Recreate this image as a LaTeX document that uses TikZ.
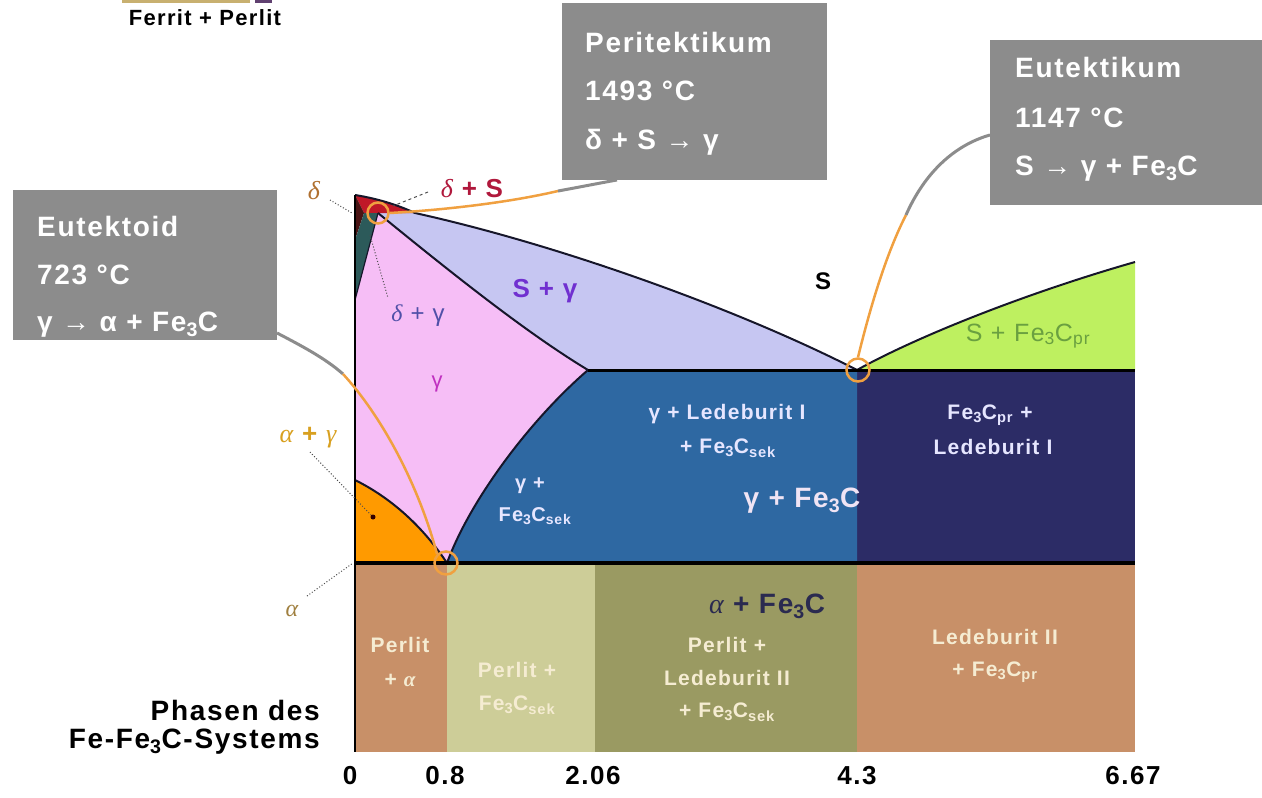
\documentclass[tikz,border=0pt]{standalone}
\usepackage{fontspec}
\setmainfont{Liberation Sans}[LetterSpace=6]
\newfontfamily\gk{Liberation Serif}
\usetikzlibrary{calc}
\definecolor{boxgray}{HTML}{8C8C8C}
\definecolor{ring}{HTML}{F0A040}
\definecolor{lav}{HTML}{C6C6F2}
\definecolor{pinkg}{HTML}{F6BEF6}
\definecolor{orng}{HTML}{FF9A00}
\definecolor{blu}{HTML}{2E68A2}
\definecolor{navy}{HTML}{2C2C66}
\definecolor{lgreen}{HTML}{BEF060}
\definecolor{brwn}{HTML}{C89068}
\definecolor{khaki}{HTML}{CDCD98}
\definecolor{olive}{HTML}{9A9A62}
\definecolor{dred}{HTML}{C01828}
\definecolor{ddark}{HTML}{4A1414}
\definecolor{dteal}{HTML}{2C5A5A}
\definecolor{bline}{HTML}{16162A}
\definecolor{cream}{HTML}{F5ECD2}
\definecolor{wlav}{HTML}{E6E6FF}
\definecolor{crimson}{HTML}{B0183C}
\definecolor{purp}{HTML}{7030D0}
\definecolor{dgam}{HTML}{5050A8}
\definecolor{mag}{HTML}{C030C0}
\definecolor{gold}{HTML}{D8A020}
\definecolor{agold}{HTML}{A08040}
\definecolor{dbrown}{HTML}{B07030}
\definecolor{dnavy}{HTML}{2A2A50}
\definecolor{lgtxt}{HTML}{6AA040}
\definecolor{gtxt}{HTML}{F0E4F4}
\definecolor{striptan}{HTML}{C8B070}
\definecolor{strippur}{HTML}{604070}
\tikzset{
  calloutbox/.style={fill=boxgray, draw=none, inner sep=0, anchor=north west},
  ctext/.style={font=\fontsize{28}{30}\selectfont\bfseries, text=white, anchor=base west, inner sep=0},
  lbl/.style={font=\fontsize{21}{24}\selectfont\bfseries, inner sep=0},
  bline/.style={draw=bline, line width=2},
  thick line/.style={draw=black, line width=3.5},
  ringc/.style={circle, draw=ring, line width=2.5, minimum size=21, inner sep=0},
  orline/.style={draw=ring, line width=2.5},
  grline/.style={draw=boxgray, line width=3},
  leader/.style={draw=black!70, line width=1, dotted},
  axnum/.style={font=\fontsize{26}{28}\selectfont\bfseries, inner sep=0}
}
\begin{document}
\begin{tikzpicture}[x=1pt,y=-1pt]
\useasboundingbox (0,0) rectangle (1262,798);
% key points
\coordinate (A) at (355,195);
\coordinate (H) at (364,213);
\coordinate (J) at (378,213);
\coordinate (B) at (415,213);
\coordinate (N) at (355,240);
\coordinate (G) at (355,300);
\coordinate (E) at (588,370);
\coordinate (C) at (857,370);
\coordinate (R) at (1135,370);
\coordinate (D) at (1135,262);
\coordinate (P) at (355,480);
\coordinate (S) at (447,563);
\coordinate (Q) at (355,563);
\coordinate (K) at (1135,563);
\coordinate (C2) at (857,563);
% top-left cut-off legend
\fill[striptan] (122,0) rectangle (250,2.5);
\fill[strippur] (255,0) rectangle (272,2.5);
\node[font=\fontsize{22}{24}\selectfont\bfseries, inner sep=0] (fp) at (205,18) {Ferrit + Perlit};
% bottom regions
\fill[brwn] (355,563) rectangle (447,752);
\fill[khaki] (447,563) rectangle (595,752);
\fill[olive] (595,563) rectangle (857,752);
\fill[brwn] (857,563) rectangle (1135,752);
% upper regions
\fill[navy] (C) rectangle (K);
\fill[lgreen] (C) .. controls (920,335) and (1030,292) .. (D) -- (R) -- cycle;
\fill[blu] (E) -- (C) -- (C2) -- (S) .. controls (470,500) and (530,420) .. (E) -- cycle;
\fill[lav] (J) -- (B) .. controls (560,245) and (740,310) .. (C) -- (E) .. controls (530,335) and (460,280) .. (J) -- cycle;
\fill[pinkg] (J) .. controls (460,280) and (530,335) .. (E) .. controls (530,420) and (470,500) .. (S) .. controls (425,530) and (395,500) .. (P) -- (G) -- cycle;
\fill[orng] (P) .. controls (395,500) and (425,530) .. (S) -- (Q) -- cycle;
\fill[dred] (A) .. controls (380,199) and (400,206) .. (B) -- (H) -- cycle;
\fill[ddark] (A) -- (H) -- (N) -- cycle;
\fill[dteal] (H) -- (J) -- (G) -- (N) -- cycle;
% boundary lines
\draw[bline] (A) .. controls (380,199) and (400,206) .. (B) .. controls (560,245) and (740,310) .. (C);
\draw[bline] (J) .. controls (460,280) and (530,335) .. (E);
\draw[bline] (E) .. controls (530,420) and (470,500) .. (S);
\draw[bline] (P) .. controls (395,500) and (425,530) .. (S);
\draw[bline, line width=1.2] (J) -- (G);
\draw[bline] (C) .. controls (920,335) and (1030,292) .. (D);
\draw[thick line, line width=3] (E) -- (R);
\draw[thick line] (Q) -- (K);
\draw[draw=black, line width=2.5] (A) -- (355,752);
\fill[black!80!red] (373,517) circle (2.5);
% leaders
\draw[leader] (330,200) -- (352,213);
\draw[leader, dashed] (428,192) -- (393,206);
\draw[leader] (370,235) -- (388,298);
\draw[leader] (310,452) -- (371,515);
\draw[leader] (307,596) -- (353,563);
% callout boxes
\node[calloutbox, minimum width=265, minimum height=177] (bp) at (562,3) {};
\node[calloutbox, minimum width=272, minimum height=165] (bq) at (990,40) {};
\node[calloutbox, minimum width=264, minimum height=150] (bz) at (13,190) {};
\node[ctext] (p1) at (585,52) {Peritektikum};
\node[ctext] (p2) at (585,100) {1493 °C};
\node[ctext] (p3) at (585,149) {δ + S → γ};
\node[ctext] (q1) at (1015,77) {Eutektikum};
\node[ctext] (q2) at (1015,127) {1147 °C};
\node[ctext] (q3) at (1015,175) {S → γ + Fe\textsubscript{3}C};
\node[ctext] (z1) at (37,236) {Eutektoid};
\node[ctext] (z2) at (37,284) {723 °C};
\node[ctext] (z3) at (37,331) {γ → α + Fe\textsubscript{3}C};
% rings
\node[ringc] (r1) at (J) {};
\node[ringc, minimum size=23] (r2) at (858,370) {};
\node[ringc, minimum size=23] (r3) at (446,563) {};
% connectors
\coordinate (m1) at (558,191);
\coordinate (pe) at (617,180);
\draw[orline] (r1.east) .. controls (460,209) and (520,200) .. (m1);
\draw[grline] (m1) .. controls (580,187) and (600,183) .. (pe);
\coordinate (m2) at (906,215);
\coordinate (qe) at (990,135);
\draw[orline] (r2.north) .. controls (872,300) and (888,250) .. (m2);
\draw[grline] (m2) .. controls (925,172) and (955,145) .. (qe);
\coordinate (m3) at (343,374);
\coordinate (ze) at (277,333);
\draw[grline] (ze) .. controls (300,345) and (325,358) .. (m3);
\draw[orline] (m3) .. controls (385,420) and (420,490) .. (r3.north west);
% phase labels
\node[lbl, font=\fontsize{26}{28}\selectfont\gk\itshape, text=dbrown] (ld) at (314,191) {δ};
\node[lbl, font=\fontsize{26}{28}\selectfont\bfseries, text=crimson] (lds) at (472,189) {{\gk\itshape\mdseries δ} + S};
\node[lbl, font=\fontsize{26}{28}\selectfont\bfseries, text=purp] (lsg) at (545,291) {S + γ};
\node[lbl, font=\fontsize{24}{26}\selectfont, text=dgam] (ldg) at (418,316) {{\gk\itshape δ} + γ};
\node[lbl, font=\fontsize{22}{24}\selectfont, text=mag] (lg) at (437,384) {γ};
\node[lbl, font=\fontsize{24}{26}\selectfont\bfseries] (ls) at (823,281) {S};
\node[lbl, font=\fontsize{25}{27}\selectfont, text=lgtxt] (lsf) at (1028,336) {S + Fe\textsubscript{3}C\textsubscript{pr}};
\node[lbl, font=\fontsize{26}{28}\selectfont\bfseries, text=gold] (lag) at (308,438) {{\gk\itshape\mdseries α} + {\gk\itshape\mdseries γ}};
\node[lbl, font=\fontsize{24}{26}\selectfont\gk\itshape, text=agold] (la) at (292,611) {α};
\node[lbl, text=wlav] (lgl1) at (727,414) {γ + Ledeburit I};
\node[lbl, text=wlav] (lgl2) at (728,448) {+ Fe\textsubscript{3}C\textsubscript{sek}};
\node[lbl, text=wlav, font=\fontsize{20}{24}\selectfont\bfseries] (lgs1) at (530,486) {γ +};
\node[lbl, text=wlav, font=\fontsize{20}{24}\selectfont\bfseries] (lgs2) at (535,516) {Fe\textsubscript{3}C\textsubscript{sek}};
\node[lbl, text=gtxt, font=\fontsize{28}{30}\selectfont\bfseries] (lgf) at (802,501) {γ + Fe\textsubscript{3}C};
\node[lbl, text=wlav] (lfl1) at (990,415) {Fe\textsubscript{3}C\textsubscript{pr} +};
\node[lbl, text=wlav] (lfl2) at (993,447) {Ledeburit I};
\node[lbl, text=dnavy, font=\fontsize{28}{30}\selectfont\bfseries] (laf) at (767,606) {{\gk\itshape\mdseries α} + Fe\textsubscript{3}C};
\node[lbl, text=cream] (lpa1) at (400,645) {Perlit};
\node[lbl, text=cream] (lpa2) at (400,680) {+ {\gk\itshape α}};
\node[lbl, text=cream] (lpf1) at (517,670) {Perlit +};
\node[lbl, text=cream] (lpf2) at (517,705) {Fe\textsubscript{3}C\textsubscript{sek}};
\node[lbl, text=cream] (lpl1) at (727,645) {Perlit +};
\node[lbl, text=cream] (lpl2) at (727,678) {Ledeburit II};
\node[lbl, text=cream] (lpl3) at (727,712) {+ Fe\textsubscript{3}C\textsubscript{sek}};
\node[lbl, text=cream] (lle1) at (995,637) {Ledeburit II};
\node[lbl, text=cream] (lle2) at (995,672) {+ Fe\textsubscript{3}C\textsubscript{pr}};
% title
\node[font=\fontsize{28}{30}\selectfont\bfseries, anchor=base east, inner sep=0] (t1) at (320,720) {Phasen des};
\node[font=\fontsize{28}{30}\selectfont\bfseries, anchor=base east, inner sep=0] (t2) at (320,748) {Fe-Fe\textsubscript{3}C-Systems};
% axis numbers
\node[axnum] (x0) at (350,776) {0};
\node[axnum] (x1) at (445,776) {0.8};
\node[axnum] (x2) at (593,776) {2.06};
\node[axnum] (x3) at (857,776) {4.3};
\node[axnum] (x4) at (1133,776) {6.67};
\end{tikzpicture}
\end{document}
